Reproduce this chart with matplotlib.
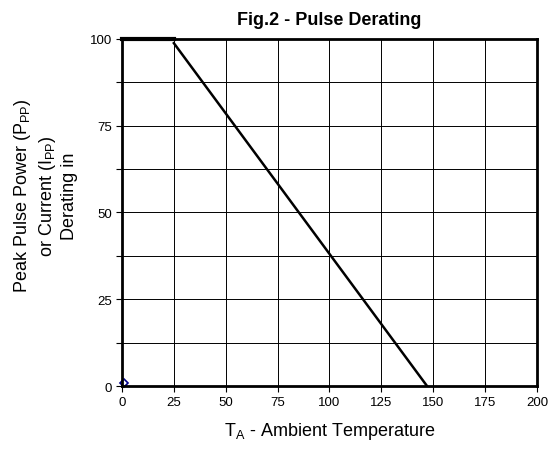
import matplotlib.pyplot as plt
import numpy as np

plt.rcParams['font.family'] = ['Liberation Sans', 'DejaVu Sans']

# derating curve
temp = [25, 147]
derating = [98.8, 0]
flat_temp = [0, 25]
flat_val = [100, 100]
marker_x = [1]
marker_y = [1]

xticks = [0, 25, 50, 75, 100, 125, 150, 175, 200]
yticks = [0, 25, 50, 75, 100]
ygrid = [12.5, 37.5, 62.5, 87.5]

fig = plt.figure(figsize=(5.51, 4.56), dpi=100)
ax = fig.add_axes([0.2214, 0.1513, 0.7532, 0.761])

ax.set_xlim(0, 200)
ax.set_ylim(0, 100)
ax.set_xticks(xticks)
ax.set_yticks(yticks)
ax.set_yticks(ygrid, minor=True)
ax.grid(True, which='both', color='black', linewidth=0.7)
ax.tick_params(axis='both', which='both', direction='out', length=4, width=0.8, labelsize=9.5, pad=3)
for s in ax.spines.values():
    s.set_linewidth(2)

ax.plot(flat_temp, flat_val, color='black', linewidth=3, clip_on=False)
ax.plot(temp, derating, color='black', linewidth=1.8)
ax.plot(marker_x, marker_y, marker='D', markersize=4, markerfacecolor='white',
        markeredgecolor='#00008B', markeredgewidth=1.2, linestyle='none', clip_on=False)

ax.set_title('Fig.2 - Pulse Derating', fontsize=13, fontweight='bold', pad=11)
ax.set_xlabel('T$_\\mathregular{A}$ - Ambient Temperature', fontsize=13, labelpad=9)
ax.set_ylabel('Peak Pulse Power (P$_\\mathregular{PP}$)\nor Current (I$_\\mathregular{PP}$)\nDerating in',
              fontsize=13, labelpad=9, linespacing=1.25)
ax.yaxis.set_label_coords(-0.106, 0.55)

fig.savefig('out.png', dpi=100)
